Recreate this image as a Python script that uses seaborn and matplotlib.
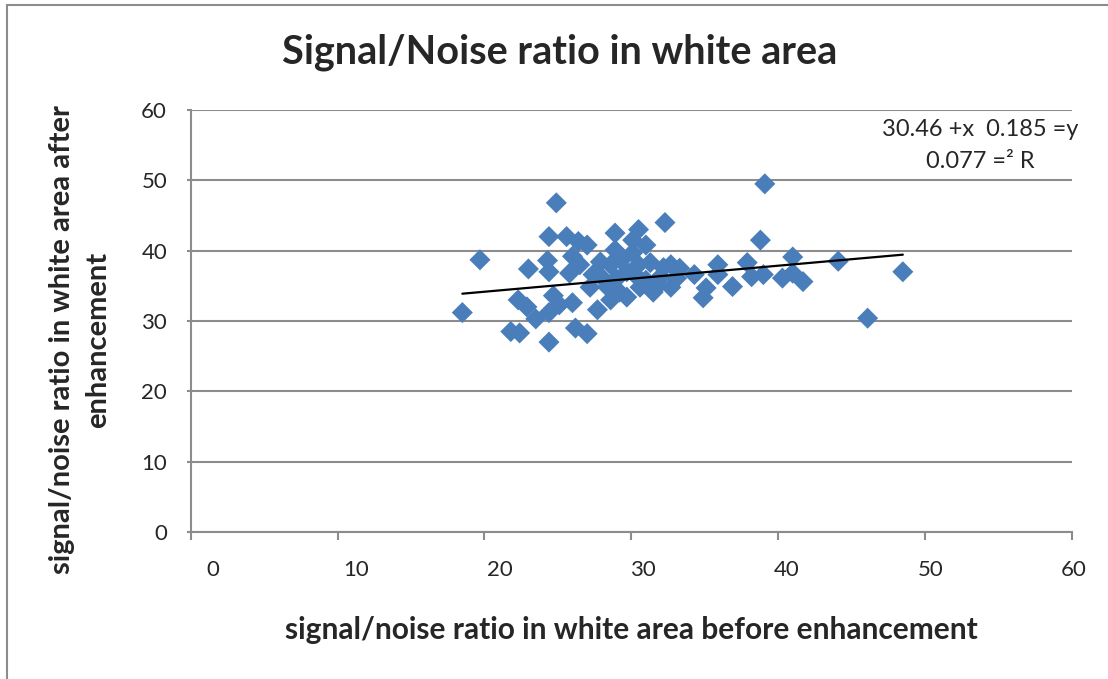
import numpy as np
import pandas as pd
import matplotlib
matplotlib.use("Agg")
import matplotlib.pyplot as plt
import matplotlib.transforms as mtransforms
from matplotlib.patches import Rectangle
import seaborn as sns

# ---- data ----
snr_before = [18.5, 19.7, 21.8, 22.4, 22.3, 22.9, 23.0, 23.5, 24.4, 24.4,
              24.3, 24.4, 24.7, 24.4, 24.9, 25.1, 25.6, 25.8, 26.0, 26.2,
              26.4, 26.0, 26.5, 27.0, 27.0, 27.7, 28.9, 30.5, 32.3, 30.1,
              31.0, 28.9, 30.1, 27.9, 28.6, 31.3, 32.7, 27.4, 29.7, 32.0,
              33.1, 27.2, 28.4, 29.2, 30.6, 31.5, 32.7, 28.6, 29.7, 34.3,
              35.9, 35.9, 35.1, 34.9, 36.9, 37.9, 38.2, 39.1, 38.8, 39.0,
              40.3, 41.0, 41.0, 41.7, 44.1, 46.1, 48.5, 28.0, 29.0, 30.3,
              31.0, 29.3, 32.2, 31.8, 33.3, 30.5]
snr_after = [31.2, 38.7, 28.5, 28.3, 33.0, 32.0, 37.4, 30.3, 27.0, 42.0,
             38.6, 37.0, 33.6, 31.2, 46.8, 32.3, 42.0, 36.8, 32.6, 29.0,
             41.3, 39.2, 38.0, 40.8, 28.2, 31.6, 42.5, 43.0, 44.0, 41.5,
             40.8, 40.1, 39.7, 38.4, 38.0, 38.3, 38.0, 36.6, 37.0, 36.3,
             36.1, 34.8, 34.8, 34.1, 34.8, 34.1, 34.8, 33.0, 33.4, 36.6,
             38.0, 36.6, 34.7, 33.3, 34.9, 38.3, 36.3, 49.5, 41.5, 36.6,
             36.1, 39.1, 36.8, 35.6, 38.5, 30.4, 37.0, 36.2, 36.0, 36.5,
             35.8, 38.6, 37.6, 35.0, 37.5, 38.0]
trend_slope = 0.185
trend_intercept = 30.46
equation_lines = ["30.46 +x  0.185 =y", "0.077 =\u00b2 R"]
x_ticks = [0, 10, 20, 30, 40, 50, 60]
y_ticks = [0, 10, 20, 30, 40, 50, 60]

df = pd.DataFrame({"before": snr_before, "after": snr_after})

sns.set_style("white")
plt.rcParams["font.family"] = ["Lato", "DejaVu Sans"]

W, H = 1108, 679
fig = plt.figure(figsize=(W / 100, H / 100), dpi=100)
ax = fig.add_axes([190.7 / W, 1 - 532 / H, (1071.7 - 190.7) / W, (532 - 110) / H])

sns.scatterplot(data=df, x="before", y="after", marker="D", s=115,
                color="#4a7ebb", edgecolor="none", linewidth=0, ax=ax,
                zorder=3, legend=False)

xl = np.array([min(snr_before), max(snr_before)])
ax.plot(xl, trend_intercept + trend_slope * xl, color="black", lw=1.6, zorder=4)

ax.set_xlim(0, 60)
ax.set_ylim(0, 60)
ax.set_xticks(x_ticks)
ax.set_yticks(y_ticks)
ax.set_xticklabels([str(v) for v in x_ticks])
ax.set_yticklabels([str(v) for v in y_ticks])

ax.grid(axis="y", color="#8c8c8c", lw=1.5)
ax.grid(axis="x", visible=False)
ax.set_axisbelow(True)
for s in ["top", "right"]:
    ax.spines[s].set_visible(False)
for s in ["left", "bottom"]:
    ax.spines[s].set_color("#8c8c8c")
    ax.spines[s].set_linewidth(1.5)

ax.tick_params(axis="x", direction="out", length=6, width=1.5, color="#8c8c8c",
               labelsize=16, pad=14, bottom=True)
ax.tick_params(axis="y", direction="out", length=3, width=1.5, color="#8c8c8c",
               labelsize=16, pad=14, left=True)

# shift x tick labels to the right like the reference
for v, lab in zip(x_ticks, ax.get_xticklabels()):
    dx = (22 - 0.33 * v) / 100
    lab.set_transform(lab.get_transform() + mtransforms.ScaledTranslation(dx, 0, fig.dpi_scale_trans))

ax.set_xlabel("")
ax.set_ylabel("")
fig.text(631 / W, 1 - 630 / H, "signal/noise ratio in white area before enhancement",
         ha="center", va="center", fontsize=21.5, fontweight="bold")
fig.text(62 / W, 1 - 340 / H, "signal/noise ratio in white area after",
         ha="center", va="center", rotation=90, fontsize=21, fontweight="bold")
fig.text(98 / W, 1 - 340 / H, "enhancement",
         ha="center", va="center", rotation=90, fontsize=21, fontweight="bold")
fig.text(560 / W, 1 - 52 / H, "Signal/Noise ratio in white area",
         ha="center", va="center", fontsize=28.5, fontweight="bold")
fig.text(980 / W, 1 - 130 / H, equation_lines[0], ha="center", va="center", fontsize=17)
fig.text(980 / W, 1 - 162 / H, equation_lines[1], ha="center", va="center", fontsize=17)

# outer chart border
fig.add_artist(Rectangle((7 / W, -0.05), 1.2, 1 - 5 / H + 0.05, transform=fig.transFigure,
                         fill=False, edgecolor="#8c8c8c", lw=1.5))

fig.savefig("out.png", dpi=100)
